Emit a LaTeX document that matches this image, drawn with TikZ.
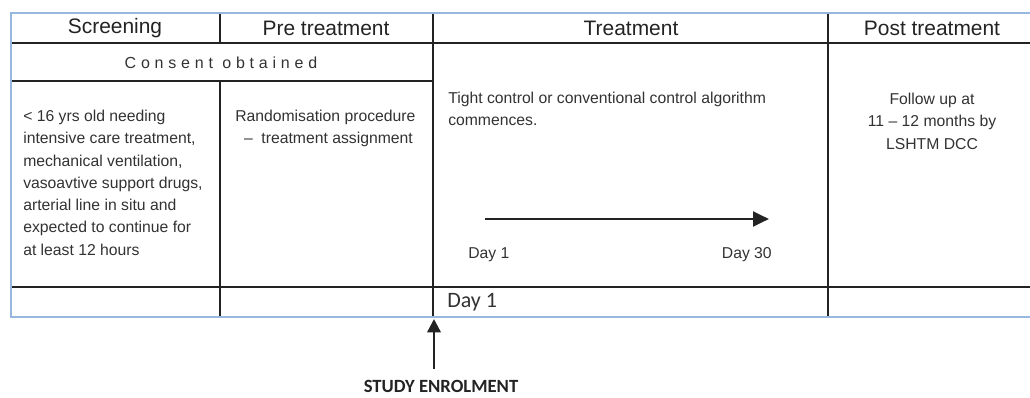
\documentclass[tikz,border=0pt]{standalone}
\usepackage{fontspec}
\setmainfont{Liberation Sans}
\newfontfamily\daysfont{Carlito}
\usetikzlibrary{arrows.meta,positioning}
\definecolor{tableedge}{RGB}{150,184,222}
\definecolor{ruleline}{RGB}{35,35,35}
\definecolor{celltext}{RGB}{50,50,50}
\tikzset{
  headcell/.style={font=\fontsize{15.7}{18}\selectfont,text=ruleline,inner sep=0pt},
  bodycell/.style={font=\fontsize{11.8}{16.7}\selectfont,text=celltext,inner sep=0pt,align=left,anchor=north west},
  gridline/.style={ruleline,line width=1.4pt},
  daylabel/.style={font=\fontsize{11.8}{14}\selectfont,text=celltext,inner sep=0pt}
}
\begin{document}
\begin{tikzpicture}[x=0.75pt,y=-0.75pt]
  \useasboundingbox (0,0) rectangle (1030,398);
  % inner rules
  \draw[gridline] (11,43) -- (1030,43);
  \draw[gridline] (11,81) -- (433,81);
  \draw[gridline] (11,287) -- (1030,287);
  \draw[gridline] (220,13) -- (220,43);
  \draw[gridline] (220,81) -- (220,317);
  \foreach \vx in {433,828} \draw[gridline] (\vx,13) -- (\vx,317);
  % outer frame
  \draw[tableedge,line width=2.2pt] (1030,13) -- (11,13) -- (11,317) -- (1030,317);
  % column heads
  \foreach \hx/\hid/\htext in {115/scr/Screening,326/pre/Pre treatment,631/trt/Treatment,932/post/Post treatment}
    \node[headcell] (\hid) at (\hx,28) {\htext};
  \node[font=\fontsize{12}{14}\selectfont\addfontfeature{LetterSpace=30},text=celltext,inner sep=0pt] (consent) at (221,63) {Consent obtained};
  % cells
  \node[bodycell] (criteria) at (23,110) {< 16 yrs old needing\\intensive care treatment,\\mechanical ventilation,\\vasoavtive support drugs,\\arterial line in situ and\\expected to continue for\\at least 12 hours};
  \node[bodycell] (random) at (235,110) {Randomisation procedure\\\ \ – \ treatment assignment};
  \node[bodycell] (algo) at (448,92) {Tight control or conventional control algorithm\\commences.};
  \node[bodycell,align=center,anchor=north] (follow) at (932,93) {Follow up at\\11 – 12 months by\\LSHTM DCC};
  % treatment period
  \node[daylabel,anchor=west] (dayone) at (468,255) {Day 1};
  \node[daylabel,anchor=east] (daythirty) at (772,255) {Day 30};
  \coordinate (tstart) at (485,219);
  \coordinate (tend) at (769,219);
  \draw[ruleline,line width=2.2pt,-{Triangle[length=12pt,width=11pt]}] (tstart) -- (tend);
  \node[font=\daysfont\fontsize{16.5}{18}\selectfont,text=celltext,inner sep=0pt,anchor=west] (enrolday) at (447,302) {Day 1};
  % enrolment
  \node[font=\daysfont\bfseries\fontsize{14}{16}\selectfont,text=ruleline,inner sep=0pt] (enrol) at (441,386) {STUDY ENROLMENT};
  \coordinate (entry) at (434,319);
  \draw[ruleline,line width=1.8pt,-{Triangle[length=10pt,width=10pt]},shorten <=8pt] (enrol.north -| entry) -- (entry);
\end{tikzpicture}
\end{document}
